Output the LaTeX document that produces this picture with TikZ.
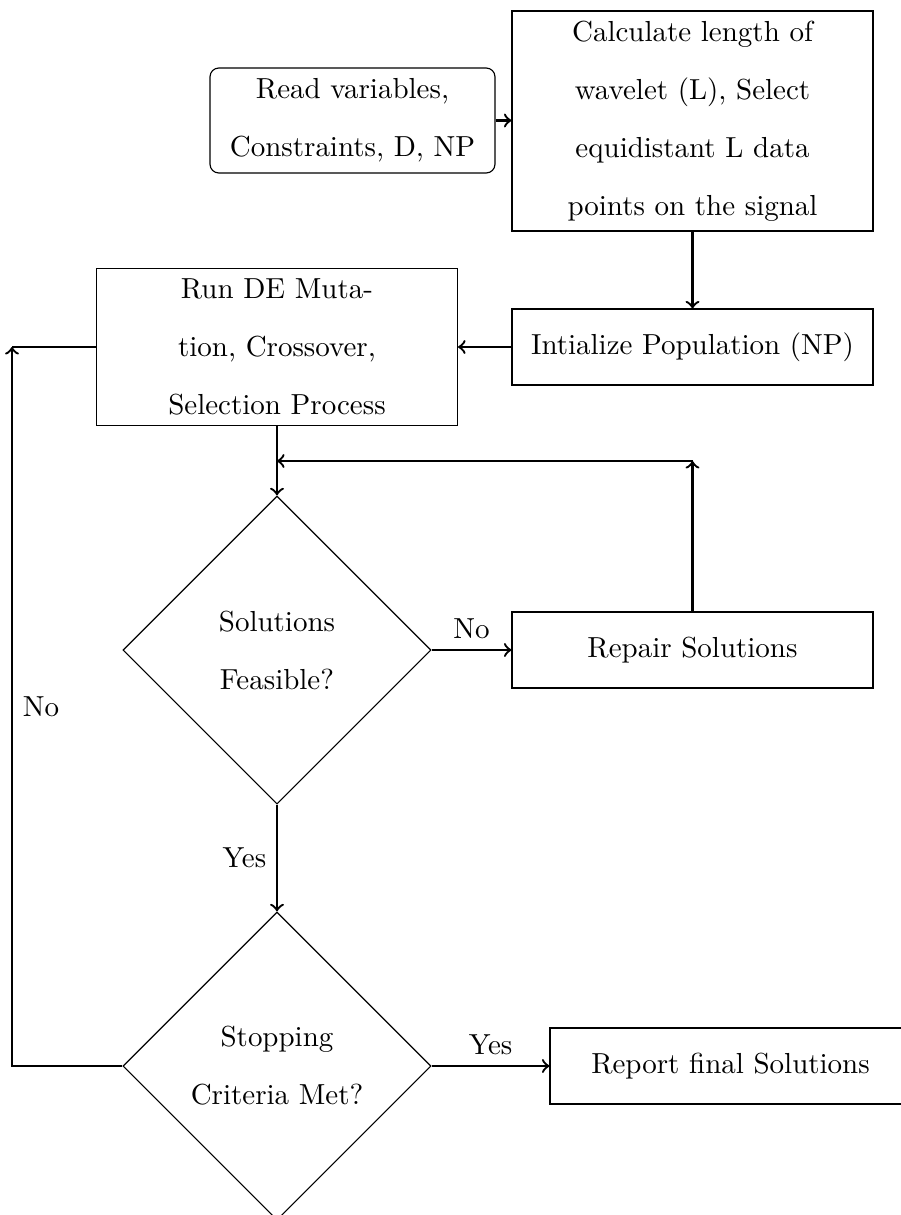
\documentclass[tikz,border=0pt]{standalone}
\usetikzlibrary{shapes.geometric}
\begin{document}
\begin{tikzpicture}[x=0.345pt,y=-0.345pt,
  txt/.style={font=\fontsize{10}{20}\selectfont},
  box/.style={txt, draw, line width=0.4pt, align=center, minimum width=124.5pt, inner ysep=2pt},
  dia/.style={txt, draw, line width=0.4pt, diamond, aspect=1, minimum width=106.3pt, minimum height=106.3pt, inner sep=0pt, align=center},
  conn/.style={thick, ->},
  link/.style={thick},
  lbl/.style={txt}
]
\useasboundingbox (0,0) rectangle (901,1215);
\node[box, rounded corners=3pt, minimum width=98.3pt, minimum height=36.2pt] (read) at (352.5,120.5) {Read variables,\\Constraints, D, NP};
\node[box, minimum height=75.9pt] (calc) at (692.5,121) {Calculate length of\\wavelet (L), Select\\equidistant L data\\points on the signal};
\node[box, minimum height=26.2pt] (init) at (692.5,347) {Intialize Population (NP)};
\node[box, minimum height=54.2pt] (run) at (277,347) {Run DE Muta-\\tion, Crossover,\\Selection Process};
\node[dia] (feas) at (277,650) {Solutions\\Feasible?};
\node[box, minimum height=26.2pt] (repair) at (692.5,650) {Repair Solutions};
\node[dia] (stop) at (277,1066) {Stopping\\Criteria Met?};
\node[box, minimum height=26.2pt] (report) at (730.5,1066) {Report final Solutions};
\coordinate (merge) at (692.5,461);
\coordinate (join) at (277,461);
\coordinate (back) at (12,347);

\draw[conn] (read.east) -- (read.east -| calc.west);
\draw[conn] (calc) -- (init);
\draw[conn] (init) -- (run);
\draw[conn] (run) -- (feas);
\draw[conn] (feas) -- node[lbl, above] {No} (repair);
\draw[conn] (repair) -- (merge);
\draw[conn] (merge) -- (join);
\draw[conn] (feas) -- node[lbl, left] {Yes} (stop);
\draw[conn] (stop) -- node[lbl, above] {Yes} (report);
\draw[conn] (stop.west) -| node[lbl, pos=0.75, right] {No} (back);
\draw[link] (back) -- (run.west);
\end{tikzpicture}
\end{document}
